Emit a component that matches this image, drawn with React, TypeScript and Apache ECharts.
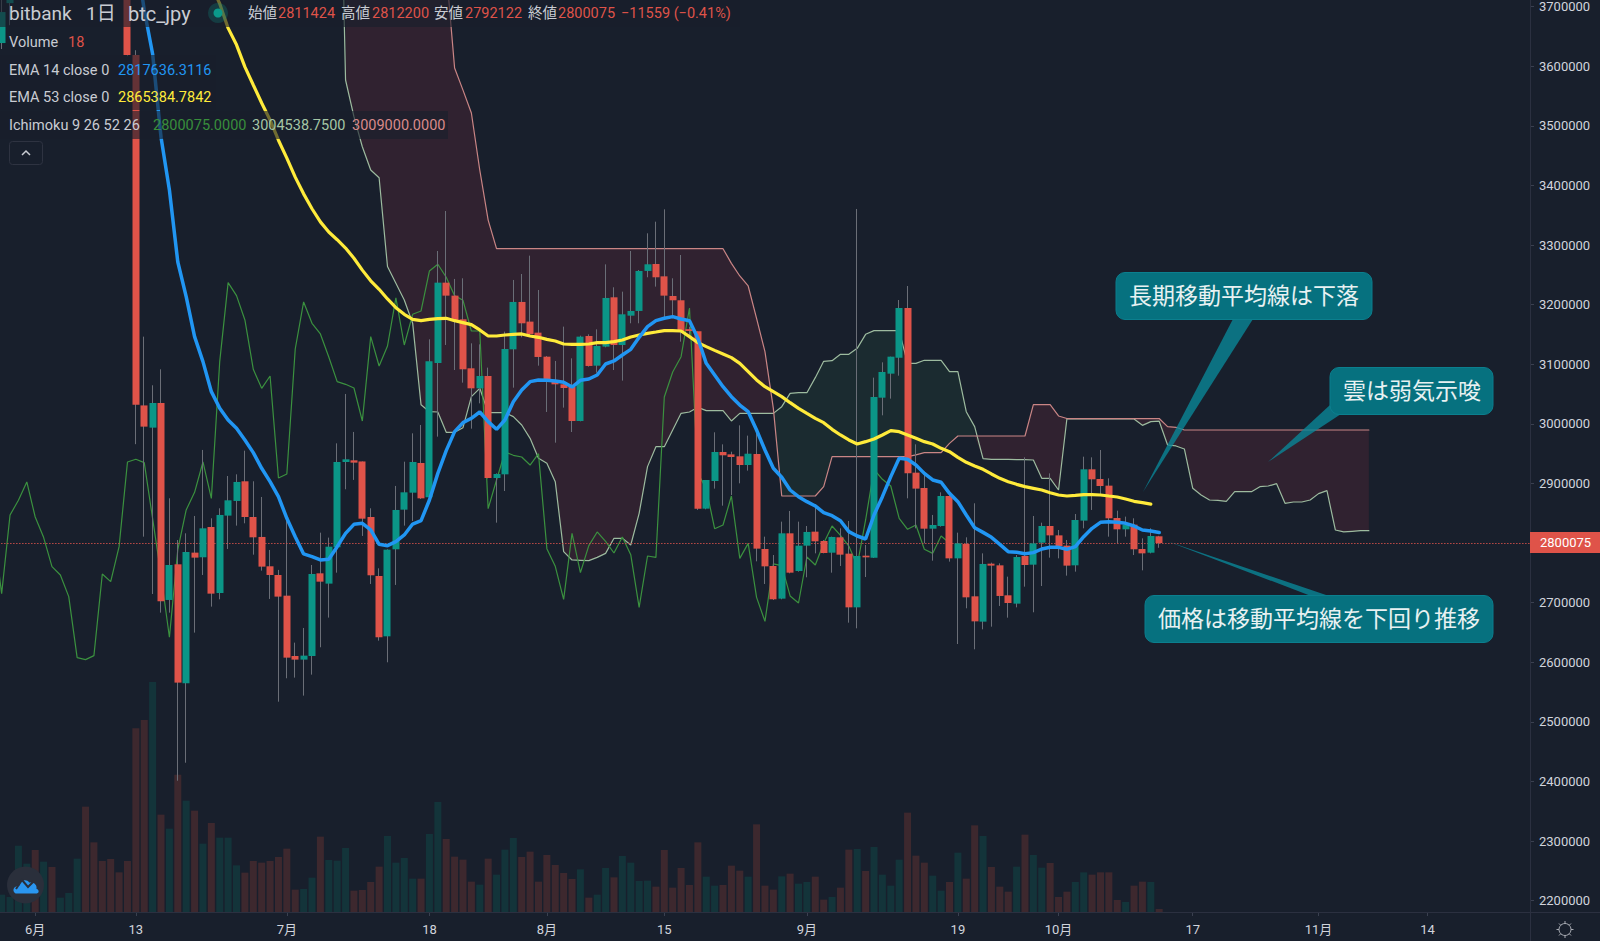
import React, { useEffect, useRef } from "react";
import * as echarts from "echarts";

// All prices below are in thousands of yen; first candle is 27 May.
const monthLengths = [[5, 27, 31], [6, 1, 30], [7, 1, 31], [8, 1, 31], [9, 1, 30], [10, 1, 31], [11, 1, 30]];
const categoryCount = 184;

const xTickIndexes = [5, 17, 35, 52, 66, 80, 97, 115, 127, 143, 158, 171];
const xTickTexts = ["6月", "13", "7月", "18", "8月", "15", "9月", "19", "10月", "17", "11月", "14"];
const yTicks = [2200000, 2300000, 2400000, 2500000, 2600000, 2700000, 2800000, 2900000, 3000000, 3100000, 3200000, 3300000, 3400000, 3500000, 3600000, 3700000];

const opens = [
  3600, 3639, 3706, 3790, 3950, 3980, 3900, 3960, 3910, 3940, 3965, 4020, 3920, 3880, 3850, 3830, 3790,
  3619, 3031, 2993.7, 3035, 2704.6, 2764.4, 2564.8, 2784, 2776.2, 2827, 2716.3, 2846.1, 2870.7, 2903.7, 2843.8, 2810.3, 2761.1, 2746.5,
  2711.8, 2610.6, 2604.5, 2610.6, 2749.3, 2732, 2793, 2936.1, 2938.9, 2937, 2843.8, 2744.8, 2643.6, 2789.6, 2856.1, 2884.6, 2934.4, 2876.8,
  3102.2, 3237, 3215.2, 3175.5, 3093.3, 3059.7, 3080.4, 2909.2, 2915.4, 3125.1, 3204.6, 3171.6, 3153.1, 3112.8, 3070.9, 3066.4, 3061.9, 3004.9,
  3147.5, 3097.7, 3129.6, 3212.4, 3132.4, 3181.6, 3189.5, 3256.6, 3268.3, 3247.6, 3214.6, 3207.4, 3159, 3155.3, 2857.8, 2904.2, 2952.9, 2948.9,
  2945.6, 2931, 2949.5, 2790.1, 2761.6, 2706.8, 2816.4, 2753.2, 2795.7, 2819.2, 2803.5, 2783.9, 2809.7, 2782.3, 2692.2, 2778.9, 2775.6, 3044,
  3084.3, 3111, 3194.5, 2918.2, 2892.5, 2824.2, 2828.7, 2879, 2774.4, 2798.5, 2710.7, 2668.2, 2765.5, 2762.7, 2712.4, 2698.4, 2778.4, 2763.8,
  2800.7, 2828.7, 2813, 2795.7, 2762.7, 2837.7, 2923.8, 2907.6, 2896.4, 2842.1, 2823.1, 2830.9, 2790.1, 2783.9, 2811.424,
];
const closes = [
  3650, 3691, 3790, 3950, 3980, 3900, 3960, 3910, 3940, 3965, 4020, 3920, 3880, 3850, 3830, 3790, 3619,
  3032, 2995.4, 3035.1, 2702.3, 2763.3, 2565.9, 2785.1, 2775.6, 2824.8, 2715.2, 2847.2, 2871.8, 2902.6, 2843.8, 2809.7, 2760.5, 2746.5, 2710.2,
  2607.8, 2604.5, 2611.2, 2748.2, 2735.3, 2794, 2936.1, 2940.6, 2935, 2841, 2746, 2642, 2789, 2855.6, 2885.2, 2936.1, 2875.1, 3105,
  3237, 3215.2, 3174.4, 3091.6, 3059.7, 3080.4, 2909.2, 2915.9, 3125.7, 3204.6, 3168.8, 3150.9, 3112.3, 3070.9, 3066.4, 3060.2, 3004.9, 3146.4,
  3097.2, 3130.7, 3211.3, 3132.4, 3183.9, 3189.5, 3256.6, 3267.8, 3246, 3215.2, 3207.4, 3155.9, 3155.9, 2857.8, 2905.9, 2952.9, 2947.3, 2944.5,
  2931, 2950, 2790.7, 2761, 2705.7, 2816.4, 2750.4, 2795.7, 2818.7, 2803, 2783.4, 2810.3, 2780.6, 2692.2, 2778.4, 2776.1, 3045.2, 3087.1,
  3112.8, 3194.5, 2917, 2891.4, 2824.2, 2830.4, 2879, 2774.4, 2799.6, 2709, 2668.7, 2765, 2762.2, 2711.3, 2699.5, 2776.7, 2763.3, 2799.6,
  2828.7, 2813, 2795.1, 2762.2, 2838.8, 2923.8, 2907, 2895.8, 2841.6, 2823.1, 2830.4, 2789.6, 2782.8, 2811.9, 2800.075,
];
const lows = [
  3590, 3629, 3669, 3770, 3930, 3880, 3880, 3895, 3900, 3925, 3950, 3905, 3860, 3835, 3815, 3770, 3617,
  2966, 2810.8, 2714.6, 2683.3, 2683.3, 2401.3, 2431.5, 2649.8, 2746.5, 2693.4, 2705.7, 2790.1, 2829.3, 2833.2, 2780.6, 2753.8, 2706.3, 2533.9,
  2573.2, 2574.3, 2544.1, 2579.3, 2625.2, 2675, 2750.4, 2890.3, 2906, 2812, 2731.4, 2636.3, 2600, 2729.8, 2829.3, 2837.1, 2874, 2876.2,
  2978.6, 3132.4, 3090.4, 3069.2, 2992, 3034.5, 2908.7, 2834.3, 2887.4, 3060.8, 3145.3, 3146.4, 3097.7, 3020, 2968.5, 3027.3, 2986.4, 3004.3,
  3096, 3086, 3128.5, 3090.4, 3072.6, 3168.8, 3168.8, 3246, 3230.3, 3177.2, 3177.2, 3138, 3147, 2855.6, 2856.7, 2891.4, 2862.8, 2880.7,
  2900.3, 2921.6, 2769.4, 2731.4, 2704.5, 2705.7, 2749.3, 2752.1, 2742.6, 2782.8, 2782.8, 2750.4, 2761.6, 2666.5, 2657, 2743.1, 2775, 3014.4,
  3042.4, 3080.9, 2875.1, 2824.8, 2799.6, 2770.5, 2827.6, 2768.9, 2630.7, 2690.6, 2621.8, 2655.3, 2659.8, 2694.5, 2674.9, 2692.2, 2726.9, 2683.9,
  2728, 2775.6, 2774.4, 2745.4, 2752.1, 2824.8, 2855.6, 2879, 2810.8, 2799.6, 2810.8, 2780, 2754.3, 2782.8, 2792.122,
];
const highs = [
  3670, 3730, 3810, 3970, 4020, 4000, 3975, 3985, 3955, 3980, 4040, 4035, 3935, 3895, 3870, 3845, 3800,
  3627, 3146.4, 3064.8, 3091.6, 2875.2, 2805.2, 2816.4, 2845.5, 2956.3, 2841.6, 2858.4, 2912.6, 2915.4, 2955.1, 2903.7, 2877.4, 2788.5, 2755,
  2838.8, 2633, 2657.6, 2763.3, 2817.5, 2809.2, 2967.4, 3050.2, 2986.5, 2937, 2858.4, 2757.7, 2789.6, 2895.9, 2936.6, 2984.2, 2998.2, 3141.9,
  3290.1, 3357.2, 3243.2, 3244.3, 3135.2, 3133.5, 3094.4, 2917, 3154.8, 3241.5, 3251.5, 3282.3, 3224.7, 3113.9, 3105.6, 3163.2, 3110, 3148,
  3150.3, 3158.7, 3267.7, 3229.2, 3221.9, 3290.1, 3258.2, 3319.8, 3339.3, 3360, 3244.3, 3283.4, 3163, 3155.3, 2905.9, 2985.9, 2965.7, 2953.4,
  2997.6, 2980.3, 2988.7, 2810.8, 2780, 2836, 2853.9, 2836, 2828.7, 2865.6, 2805.2, 2810.8, 2824.8, 2837.1, 3360.6, 2796.8, 3077.6, 3103.3,
  3112.8, 3207.9, 3231.4, 2965.7, 2919.9, 2847.2, 2885.2, 2880.7, 2817.5, 2809.7, 2866.8, 2782.8, 2767.2, 2766, 2743.7, 2780, 2943.9, 2845.5,
  2834.3, 2917, 2822, 2805.2, 2848.8, 2945, 2943.9, 2956.2, 2908.7, 2854.4, 2844.4, 2841.6, 2808, 2824.8, 2812.2,
];
const volumes = [
  100, 104, 90, 398, 290, 372, 302, 270, 86, 114, 320, 632, 418, 306, 318, 238, 306,
  1102, 1152, 1380, 584, 500, 824, 668, 608, 410, 534, 446, 446, 280, 236, 306, 296, 306, 330,
  380, 134, 138, 206, 452, 312, 308, 384, 128, 132, 180, 272, 456, 296, 324, 200, 200, 468,
  660, 438, 332, 314, 182, 164, 320, 224, 374, 444, 330, 362, 182, 342, 282, 234, 198, 256,
  86, 104, 264, 208, 336, 296, 186, 188, 152, 372, 146, 264, 162, 418, 212, 158, 162, 278,
  248, 212, 526, 158, 134, 214, 230, 170, 180, 212, 74, 90, 146, 374, 378, 246, 390, 224,
  158, 314, 596, 338, 296, 218, 128, 180, 356, 200, 520, 456, 270, 152, 122, 272, 464, 342,
  266, 294, 90, 122, 180, 238, 224, 238, 238, 72, 60, 158, 182, 180, 18,
];

// EMA 14: first value is index 16 (12 June)
const ema14Start = 16;
const ema14 = [
  3860, 3787, 3694.5, 3620.7, 3481, 3392.5, 3271.7, 3213.5, 3146.4, 3104.5, 3054.1, 3026.2, 3006.6, 2992.6, 2973, 2951.8, 2925.5, 2903.1, 2878,
  2841.6, 2810.8, 2781.8, 2777.3, 2771.7, 2772.8, 2794, 2816.4, 2831.5, 2833.2, 2822, 2798, 2795.7, 2802.5, 2813.6, 2832, 2837.6, 2872.3,
  2917, 2955.1, 2987, 3002.1, 3009.4, 3020, 3003.8, 2990.9, 3006.6, 3037.3, 3056.9, 3070.9, 3073.7, 3073.1, 3072, 3069.8, 3061.9, 3073.1,
  3075.4, 3082.1, 3100.5, 3105.6, 3115.6, 3125.1, 3145.3, 3163.2, 3173.2, 3177.2, 3180, 3176, 3173.2, 3143.6, 3101.6, 3082.1, 3062.5, 3045.7,
  3031.7, 3020.5, 2989.8, 2956.2, 2925.5, 2910.4, 2889.1, 2877.9, 2869.5, 2862.3, 2851.1, 2846, 2837.6, 2819.2, 2811.9, 2806.9, 2847.2, 2877.9,
  2911.5, 2942.2, 2940.6, 2931, 2917, 2905.9, 2902, 2883.5, 2869.5, 2847.2, 2825.9, 2818, 2809.7, 2797.9, 2785.6, 2784.5, 2782.3, 2784,
  2790.1, 2792.9, 2792.9, 2789.6, 2794, 2810.8, 2824.8, 2834.9, 2836, 2834.9, 2833.2, 2828.7, 2822, 2820.3, 2817.636,
];
// EMA 53: first value is index 25 (21 June)
const ema53Start = 25;
const ema53 = [
  3780, 3736, 3705, 3664, 3636, 3599, 3568.7, 3538.5, 3510, 3476, 3446, 3414, 3386, 3361, 3339, 3322, 3309, 3295, 3278, 3258, 3240, 3225.8,
  3209.6, 3195, 3183.9, 3175.5, 3173.2, 3175.5, 3176.6, 3177.2, 3173.2, 3169.9, 3166.5, 3157.6, 3147.5, 3147.5, 3149.2, 3150.3, 3150.9, 3147.5,
  3145.3, 3141.9, 3139.1, 3134.1, 3133.5, 3133.5, 3134.1, 3136.3, 3136.3, 3138, 3140.8, 3145.8, 3149.2, 3152, 3154.2, 3156.5, 3156.5, 3155.9,
  3146.4, 3136.3, 3129.6, 3123.4, 3117.3, 3111.2, 3101.6, 3087.7, 3073.7, 3062.5, 3054.1, 3045.7, 3035.6, 3026.1, 3017.7, 3009.4, 3002.1, 2990.9,
  2981.4, 2973, 2966.3, 2970.2, 2974.7, 2981.4, 2988.7, 2987, 2981.4, 2975.8, 2970.2, 2966.3, 2959, 2953.4, 2943.9, 2935.5, 2929.4, 2923.8,
  2916, 2908.7, 2903.1, 2898.6, 2894.7, 2891.9, 2889.1, 2884.6, 2880.7, 2879, 2880.1, 2881.3, 2881.3, 2880.7, 2879, 2877.4, 2874, 2870.1, 2867.9, 2865.385,
];
// Ichimoku lagging span: first value is index 0
const laggingSpan = [
  2824.8, 2715.2, 2847.2, 2871.8, 2902.6, 2843.8, 2809.7, 2760.5, 2746.5, 2710.2,
  2607.8, 2604.5, 2611.2, 2748.2, 2735.3, 2794, 2936.1, 2940.6, 2935, 2841,
  2746, 2642, 2789, 2855.6, 2885.2, 2936.1, 2875.1, 3105, 3237, 3215.2,
  3174.4, 3091.6, 3059.7, 3080.4, 2909.2, 2915.9, 3125.7, 3204.6, 3168.8, 3150.9,
  3112.3, 3070.9, 3066.4, 3060.2, 3004.9, 3146.4, 3097.2, 3130.7, 3211.3, 3132.4,
  3183.9, 3189.5, 3256.6, 3267.8, 3246, 3215.2, 3207.4, 3155.9, 3155.9, 2857.8,
  2905.9, 2952.9, 2947.3, 2944.5, 2931, 2950, 2790.7, 2761, 2705.7, 2816.4,
  2750.4, 2795.7, 2818.7, 2803, 2783.4, 2810.3, 2780.6, 2692.2, 2778.4, 2776.1,
  3045.2, 3087.1, 3112.8, 3194.5, 2917, 2891.4, 2824.2, 2830.4, 2879, 2774.4,
  2799.6, 2709, 2668.7, 2765, 2762.2, 2711.3, 2699.5, 2776.7, 2763.3, 2799.6,
  2828.7, 2813, 2795.1, 2762.2, 2838.8, 2923.8, 2907, 2895.8, 2841.6, 2823.1,
  2830.4, 2789.6, 2782.8, 2811.9, 2800.075,
];
// Ichimoku leading spans: first value is index 41
const spanStart = 41;
const spanA = [
  4205, 3577, 3515.5, 3465, 3426, 3413, 3264, 3236, 3208, 3169, 3032, 3020.5, 3020, 2985.9, 2985.9, 2993.7, 3045.7, 3059.7, 3018.9, 3018.9,
  3018.9, 3012.2, 2998.2, 2975.8, 2942.2, 2933.9, 2903.1, 2785.7, 2771.7, 2771.1, 2770.5, 2776.1, 2782.8, 2808, 2808, 2796.8, 2849.9, 2928.3,
  2961.8, 2961.8, 2989.8, 3017.7, 3020, 3027.8, 3022.2, 3022.2, 3022.2, 3004.9, 3017.7, 3017.7, 3017.7, 3017.7, 3017.7, 3028.9, 3051.3, 3052.4,
  3052.4, 3077.6, 3105, 3106.1, 3116.7, 3116.7, 3126.8, 3150.3, 3156.5, 3156.5, 3156.5, 3156.5, 3101.6, 3101.6, 3106.7, 3106.7, 3106.7, 3087.7,
  3087.7, 3020.5, 2995.4, 2941.7, 2940.6, 2940.6, 2940.6, 2940, 2940, 2939.4, 2908.7, 2908.7, 2889.1, 3009, 3008.5, 3008.5, 3008.5, 3008.5,
  3008.5, 3008.5, 3008.5, 3008.3, 2997.6, 3003.8, 3004.539, 2964.6, 2963, 2957.9, 2892, 2880.7, 2872.3, 2871.8, 2870.1, 2886.3, 2886.3, 2886.3,
  2894.7, 2895.8, 2899.7, 2866.8, 2869, 2869, 2872.3, 2883, 2888, 2822, 2818.7, 2819.8, 2820.9, 2820.9,
];
const spanB = [
  3800, 3800, 3800, 3800, 3800, 3800, 3800, 3800, 3800, 3800, 3800, 3800, 3800, 3762, 3597.2, 3560, 3521.7, 3426, 3342, 3294,
  3294, 3294, 3294, 3294, 3294, 3294, 3294, 3294, 3294, 3294, 3294, 3294, 3294, 3294, 3294, 3294, 3294, 3294,
  3294, 3294, 3294, 3294, 3294, 3294, 3294, 3294, 3294, 3269.4, 3248.2, 3231.4, 3177.2, 3121.2, 3026.1, 2879, 2879, 2879,
  2879, 2879, 2894.7, 2945, 2945, 2945, 2945, 2945, 2945, 2945, 2945, 2945, 2945, 2947.9, 2951.8, 2951.8, 2951.8, 2967.4,
  2979.7, 2979.7, 2979.7, 2979.7, 2979.7, 2979.7, 2979.7, 2979.7, 2979.7, 3032.3, 3032.3, 3032.3, 3013.3, 3009, 3009, 3009, 3009, 3009,
  3009, 3009, 3009, 3009, 3009, 3009, 3009, 2995.4, 2994.3, 2989.8, 2989.8, 2989.8, 2989.8, 2989.8, 2989.8, 2989.8, 2989.8, 2989.8,
  2989.8, 2989.8, 2989.8, 2989.8, 2989.8, 2989.8, 2989.8, 2989.8, 2989.8, 2989.8, 2989.8, 2989.8, 2989.8, 2989.8,
];

const BG = "#181f2c";
const UP = "#0b9687";
const DOWN = "#df5349";
const WICK = "#6a6e77";
const UP_VOL = "#13343a";
const DOWN_VOL = "#3d282e";
const PANEL_LINE = "#2b3040";
const LABEL = "#d1d4dc";
const CALLOUT = "#06717f";
const POINTER = "#0a8697";
const UI_FONT = "Roboto, 'Noto Sans CJK JP', sans-serif";
const CJK_FONT = "'Noto Sans CJK JP', sans-serif";

const categories: string[] = [];
monthLengths.forEach(([m, first, last]) => {
  for (let day = first; day <= last && categories.length < categoryCount; day++) categories.push(m + "/" + day);
});

const yen = (k: number) => Math.round(k * 1000);
const padded = (start: number, values: number[]) => {
  const out: (number | null)[] = new Array(categoryCount).fill(null);
  values.forEach((v, i) => (out[start + i] = yen(v)));
  return out;
};

// One closed outline per stretch of the cloud in which the same span stays on top.
type CloudStretch = { bullish: boolean; first: number; top: number[][]; bottom: number[][] };
const buildCloud = () => {
  const stretches: CloudStretch[] = [];
  let cur: CloudStretch | null = null;
  spanA.forEach((a, k) => {
    const b = spanB[k];
    const idx = spanStart + k;
    const bullish = a > b;
    if (cur && cur.bullish !== bullish) {
      const pa = spanA[k - 1];
      const pb = spanB[k - 1];
      const t = (pa - pb) / (pa - pb - (a - b));
      const cross = [idx - 1 + t, yen(pa + (a - pa) * t)];
      cur.top.push(cross);
      stretches.push(cur);
      cur = { bullish, first: idx, top: [cross], bottom: [] };
    }
    if (!cur) cur = { bullish, first: idx, top: [], bottom: [] };
    cur.top.push([idx, yen(a)]);
    cur.bottom.push([idx, yen(b)]);
  });
  if (cur) stretches.push(cur);
  return stretches;
};

if (typeof window !== "undefined") {
  echarts.graphic.registerShape(
    "logoCloud",
    echarts.graphic.extendPath(
      "M4 16 C0 16 -1 11 3 9.5 C4 9 5 9 6 9 C7 4 13 2 16 6 C20 5 24 8 23 11.5 C26 12.5 26 16 22 16 Z",
      {}
    ) as any
  );
}

const text = (t: string, x: number, y: number, fill: string, size = 14.5, font = UI_FONT, align = "left") => ({
  type: "text",
  z: 100,
  silent: true,
  style: { text: t, x, y, fill, fontSize: size, fontFamily: font, textAlign: align, textVerticalAlign: "middle" },
});
const veil = (x: number, y: number, width: number, height: number) => ({
  type: "rect",
  z: 90,
  silent: true,
  shape: { x, y, width, height },
  style: { fill: "rgba(24,31,44,0.62)" },
});
const callout = (x: number, y: number, width: number, height: number, pointer: number[][], label: string, tx: number) => [
  {
    type: "polygon",
    z: 94,
    silent: true,
    shape: { points: pointer },
    style: { fill: POINTER, opacity: 0.8 },
  },
  {
    type: "rect",
    z: 95,
    silent: true,
    shape: { x, y, width, height, r: 9 },
    style: { fill: CALLOUT, stroke: "#0b7f8e", lineWidth: 1 },
  },
  text(label, tx, y + height / 2 - 2, "#e8f1f2", 23, CJK_FONT),
];

const gearSpokes = [0, 45, 90, 135, 180, 225, 270, 315].map((deg) => {
  const a = (deg * Math.PI) / 180;
  return {
    type: "line",
    z: 100,
    silent: true,
    shape: { x1: 1565 + 6 * Math.cos(a), y1: 929.5 + 6 * Math.sin(a), x2: 1565 + 8.5 * Math.cos(a), y2: 929.5 + 8.5 * Math.sin(a) },
    style: { stroke: "#a9acb4", lineWidth: 1 },
  };
});

const graphics: any[] = [
  // panel lines
  { type: "line", z: 80, silent: true, shape: { x1: 1530.5, y1: 0, x2: 1530.5, y2: 941 }, style: { stroke: PANEL_LINE, lineWidth: 1 } },
  { type: "line", z: 80, silent: true, shape: { x1: 0, y1: 912.5, x2: 1600, y2: 912.5 }, style: { stroke: PANEL_LINE, lineWidth: 1 } },
  // legend backdrops
  veil(0, 0, 740, 27),
  veil(0, 55, 216, 55),
  veil(0, 111, 448, 28),
  // legend header
  text("bitbank", 9, 13.5, "#c9ccd3", 19),
  text("1日", 86, 13.5, "#c9ccd3", 19),
  text("btc_jpy", 128, 13.5, "#c9ccd3", 20),
  { type: "circle", z: 100, silent: true, shape: { cx: 218, cy: 13, r: 10 }, style: { fill: "rgba(11,150,135,0.25)" } },
  { type: "circle", z: 101, silent: true, shape: { cx: 218, cy: 13, r: 4.5 }, style: { fill: "#0b9a8a" } },
  text("始値", 248, 13.5, "#c9ccd3", 14.5),
  text("2811424", 278, 13.5, DOWN),
  text("高値", 341, 13.5, "#c9ccd3", 14.5),
  text("2812200", 372, 13.5, DOWN),
  text("安値", 434, 13.5, "#c9ccd3", 14.5),
  text("2792122", 465, 13.5, DOWN),
  text("終値", 528, 13.5, "#c9ccd3", 14.5),
  text("2800075", 558, 13.5, DOWN),
  text("−11559 (−0.41%)", 621, 13.5, DOWN),
  // indicator rows
  text("Volume", 9, 42, "#c9ccd3"),
  text("18", 68, 42, DOWN),
  text("EMA 14 close 0", 9, 70, "#c9ccd3"),
  text("2817636.3116", 118, 70, "#2196f3"),
  text("EMA 53 close 0", 9, 97.5, "#c9ccd3"),
  text("2865384.7842", 118, 97.5, "#ffeb3b"),
  text("Ichimoku 9 26 52 26", 9, 125, "#c9ccd3"),
  text("2800075.0000", 153, 125, "#388e3c"),
  text("3004538.7500", 252, 125, "#a5c6a5"),
  text("3009000.0000", 352, 125, "#d98a8a"),
  // collapse button
  { type: "rect", z: 100, silent: true, shape: { x: 9.5, y: 141.5, width: 33, height: 23, r: 3 }, style: { fill: "none", stroke: "#2e3341", lineWidth: 1 } },
  { type: "polyline", z: 100, silent: true, shape: { points: [[22, 155], [26, 151], [30, 155]] }, style: { fill: "none", stroke: "#c9ccd3", lineWidth: 1.5 } },
  // last price tag
  { type: "rect", z: 96, silent: true, shape: { x: 1530, y: 532, width: 70, height: 21 }, style: { fill: DOWN } },
  text("2800075", 1540, 542.5, "#ffffff", 13),
  // callouts
  ...callout(1116, 272.5, 256, 47, [[1233, 319], [1253, 319], [1143, 492]], "長期移動平均線は下落", 1129),
  ...callout(1330, 367.5, 163, 47, [[1330, 405], [1341, 414], [1268, 462]], "雲は弱気示唆", 1343),
  ...callout(1145, 595.5, 348, 47, [[1311, 596], [1329, 596], [1168, 541.5]], "価格は移動平均線を下回り推移", 1158),
  // logo
  { type: "circle", z: 100, silent: true, shape: { cx: 25.5, cy: 885, r: 18.5 }, style: { fill: "#2a2f3b" } },
  { type: "logoCloud", z: 101, silent: true, x: 13, y: 876, scaleX: 1.02, scaleY: 1.1, style: { fill: "#2a96f0" } },
  { type: "polyline", z: 102, silent: true, shape: { points: [[16, 889], [22, 880], [28, 887], [34, 881]] }, style: { fill: "none", stroke: "#2a2f3b", lineWidth: 2 } },
  // settings gear
  { type: "circle", z: 100, silent: true, shape: { cx: 1565, cy: 929.5, r: 6 }, style: { fill: "none", stroke: "#a9acb4", lineWidth: 1 } },
  ...gearSpokes,
];

function App() {
  const ref = useRef<HTMLDivElement>(null);

  useEffect(() => {
    document.body.style.margin = "0";
    document.body.style.background = BG;
    const chart = echarts.init(ref.current!, undefined, { renderer: "svg" });

    const wickData = opens.map((o, i) => [yen(o), yen(closes[i]), yen(lows[i]), yen(highs[i])]);
    const bodyData = opens.map((o, i) => {
      const c = closes[i];
      return [yen(o), yen(c), yen(Math.min(o, c)), yen(Math.max(o, c))];
    });
    const volumeData = volumes.map((v, i) => ({
      value: v,
      itemStyle: { color: closes[i] >= opens[i] ? UP_VOL : DOWN_VOL },
    }));

    const stretches = buildCloud();

    const line = (name: string, start: number, values: number[], color: string, width: number, z: number) => ({
      name,
      type: "line",
      data: padded(start, values),
      showSymbol: false,
      symbol: "none",
      silent: true,
      z,
      clip: true,
      lineStyle: { color, width, cap: "round" },
    });

    chart.setOption({
      animation: false,
      backgroundColor: BG,
      grid: { left: -10.93, top: 0, width: 1543.39, height: 912, containLabel: false, outerBoundsMode: "none" },
      xAxis: {
        type: "category",
        data: categories,
        boundaryGap: true,
        axisLine: { show: false },
        splitLine: { show: false },
        axisTick: {
          show: true,
          alignWithLabel: true,
          length: 4,
          lineStyle: { color: "#3a4050" },
          interval: (i: number) => xTickIndexes.includes(i),
        },
        axisLabel: {
          color: LABEL,
          fontSize: 13,
          fontFamily: UI_FONT,
          margin: 11,
          interval: (i: number) => xTickIndexes.includes(i),
          formatter: (_: string, i: number) => xTickTexts[xTickIndexes.indexOf(i)] ?? "",
        },
      },
      yAxis: [
        {
          type: "value",
          position: "right",
          offset: -2.46,
          min: 2181040,
          max: 3711240,
          axisLine: { show: false },
          splitLine: { show: false },
          axisTick: { show: true, length: 4, lineStyle: { color: "#3a4050" }, customValues: yTicks },
          axisLabel: {
            color: LABEL,
            fontSize: 13,
            fontFamily: UI_FONT,
            margin: 9,
            customValues: yTicks,
            formatter: (v: number) => String(v),
          },
        },
        { type: "value", show: false, min: 0, max: 5472, splitLine: { show: false } },
      ],
      graphic: graphics,
      series: [
        {
          name: "Volume",
          type: "bar",
          yAxisIndex: 1,
          data: volumeData,
          barWidth: 7,
          silent: true,
          z: 1,
        },
        {
          name: "Cloud",
          type: "custom",
          data: stretches.map((s) => [s.first, s.top[0][1], s.bottom[0][1]]),
          encode: { x: 0, y: [1, 2] },
          clip: true,
          silent: true,
          z: 2,
          renderItem: (params: any, api: any) => {
            const s = stretches[params.dataIndex];
            const outline = [...s.top, ...[...s.bottom].reverse()];
            return {
              type: "polygon",
              shape: { points: outline.map((p) => api.coord(p)) },
              style: { fill: s.bullish ? "#1b2b30" : "#302230" },
            };
          },
        },
        line("Leading span A", spanStart, spanA, "#9dbb9f", 1.2, 3),
        line("Leading span B", spanStart, spanB, "#c98585", 1.2, 3),
        line("Lagging span", 0, laggingSpan, "#3b913f", 1.2, 3),
        {
          name: "Wicks",
          type: "candlestick",
          data: wickData,
          barWidth: 1,
          silent: true,
          z: 4,
          clip: true,
          itemStyle: { color: WICK, color0: WICK, borderColor: WICK, borderColor0: WICK, borderWidth: 1 },
        },
        {
          name: "bitbank btc_jpy",
          type: "candlestick",
          data: bodyData,
          barWidth: 7.5,
          silent: true,
          z: 5,
          clip: true,
          itemStyle: { color: UP, color0: DOWN, borderColor: UP, borderColor0: DOWN, borderWidth: 0 },
          markLine: {
            silent: true,
            symbol: "none",
            label: { show: false },
            lineStyle: { color: "#d0504a", type: [1.5, 1.5], width: 1, opacity: 0.9 },
            data: [{ yAxis: 2800075 }],
          },
        },
        line("EMA 53", ema53Start, ema53, "#ffeb3b", 3.2, 6),
        line("EMA 14", ema14Start, ema14, "#2196f3", 3.5, 7),
      ],
    });

    return () => chart.dispose();
  }, []);

  return <div ref={ref} style={{ position: "fixed", left: 0, top: 0, width: 1600, height: 941, background: BG }} />;
}

export default App;
